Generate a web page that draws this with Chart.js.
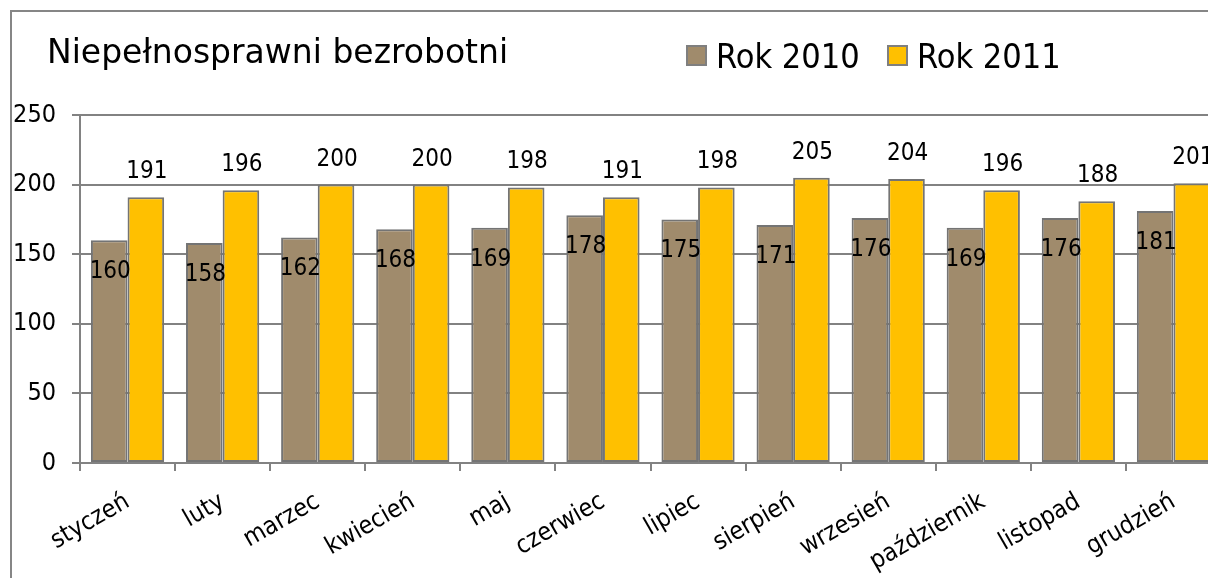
<!DOCTYPE html>
<html>
<head>
<meta charset="utf-8">
<script src="https://cdn.jsdelivr.net/npm/chart.js@4.4.1/dist/chart.umd.min.js"></script>
<style>
  html, body { margin: 0; padding: 0; background: #fff; width: 1208px; height: 578px; overflow: hidden; }
  #frame { position: absolute; left: 10px; top: 10px; width: 1300px; height: 700px;
           border-left: 2px solid #868686; border-top: 2px solid #868686; }
  #wrap { position: absolute; left: 0; top: 0; width: 1240px; height: 578px; }
  #title { position: absolute; left: 47px; top: 35px; font: 33px/33px "DejaVu Sans"; color: #000; white-space: nowrap; }
  .leg { position: absolute; top: 39px; font: 34px/34px "DejaVu Sans Condensed", "DejaVu Sans"; color: #000; white-space: nowrap; }
  .leg i { position: absolute; left: 0; top: 6px; width: 17px; height: 17px; border: 2px solid #7f7f7f; }
  .leg span { position: absolute; left: 30px; top: 0; }
</style>
</head>
<body>
<div id="frame"></div>
<div id="wrap"><canvas id="chart" width="1240" height="578"></canvas></div>
<div id="title">Niepełnosprawni bezrobotni</div>
<div class="leg" style="left:686px"><i style="background:#a08b6c"></i><span>Rok 2010</span></div>
<div class="leg" style="left:887px"><i style="background:#ffc000"></i><span>Rok 2011</span></div>
<script>
const months = ['styczeń', 'luty', 'marzec', 'kwiecień', 'maj', 'czerwiec', 'lipiec', 'sierpień', 'wrzesień', 'październik', 'listopad', 'grudzień'];
const rok2010 = [160, 158, 162, 168, 169, 178, 175, 171, 176, 169, 176, 181];
const rok2011 = [191, 196, 200, 200, 198, 191, 198, 205, 204, 196, 188, 201];
const yTicks = [0, 50, 100, 150, 200, 250];

const FONT = '"DejaVu Sans Condensed", "DejaVu Sans"';
const GREY = '#828282';

// value labels: 2010 inside near the top, 2011 above the bar
const valueLabels = {
  id: 'valueLabels',
  afterDatasetsDraw(chart) {
    const ctx = chart.ctx;
    ctx.save();
    ctx.font = '24px ' + FONT;
    ctx.fillStyle = '#000';
    ctx.textAlign = 'center';
    ctx.textBaseline = 'alphabetic';
    chart.data.datasets.forEach((ds, i) => {
      chart.getDatasetMeta(i).data.forEach((bar, j) => {
        const y = i === 0 ? bar.y + 38 : bar.y - 19;
        ctx.fillText(String(ds.data[j]), bar.x + 1, y);
      });
    });
    ctx.restore();
  }
};

new Chart(document.getElementById('chart'), {
  type: 'bar',
  data: {
    labels: months,
    datasets: [
      { label: 'Rok 2010', data: rok2010, backgroundColor: '#a08b6c', borderColor: '#747474', borderWidth: 2, borderSkipped: false },
      { label: 'Rok 2011', data: rok2011, backgroundColor: '#ffc000', borderColor: '#747474', borderWidth: 2, borderSkipped: false }
    ]
  },
  options: {
    responsive: false,
    animation: false,
    devicePixelRatio: 1,
    layout: { padding: { top: 115, right: 19, left: 0, bottom: 0 } },
    datasets: { bar: { categoryPercentage: 0.77, barPercentage: 1.0 } },
    plugins: { legend: { display: false }, title: { display: false }, tooltip: { enabled: false } },
    scales: {
      x: {
        offset: true,
        grid: { drawOnChartArea: false, drawTicks: true, tickLength: 8, color: GREY, lineWidth: 2 },
        border: { color: GREY, width: 2 },
        ticks: { color: '#000', font: { family: FONT, size: 25 }, minRotation: 30, maxRotation: 30, autoSkip: false, padding: 16 },
        afterFit: s => { s.height = 578 - 463; }
      },
      y: {
        min: 0, max: 250,
        grid: { color: GREY, lineWidth: 2, tickLength: 8 },
        border: { color: GREY, width: 2 },
        ticks: { color: '#000', font: { family: FONT, size: 25 }, padding: 16 },
        afterBuildTicks: s => { s.ticks = yTicks.map(v => ({ value: v })); },
        afterFit: s => { s.width = 80; }
      }
    }
  },
  plugins: [valueLabels]
});
</script>
</body>
</html>
